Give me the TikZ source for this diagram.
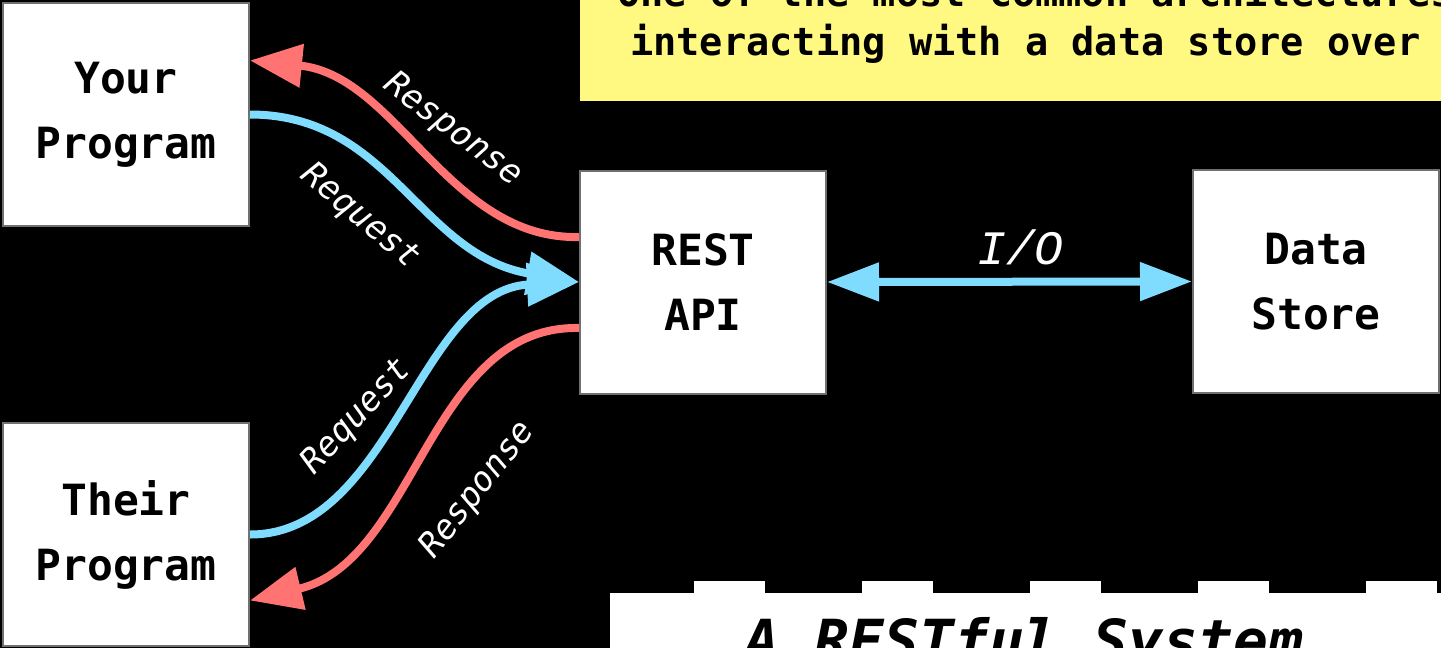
\documentclass[tikz,border=0pt]{standalone}
\usepackage{fontspec}
\setmonofont{DejaVu Sans Mono}
\newfontfamily\iofont{Liberation Mono}
\usetikzlibrary{arrows.meta}
\definecolor{respred}{HTML}{FF7373}
\definecolor{reqblue}{HTML}{80DCFF}
\definecolor{notebg}{HTML}{FFF982}
\definecolor{edgegray}{HTML}{707070}
\begin{document}
\begin{tikzpicture}[x=1pt,y=-1pt,
  box/.style={draw=edgegray, line width=2pt, fill=white, inner sep=0pt,
    minimum width=246pt, minimum height=223pt, align=center,
    font=\ttfamily\bfseries\fontsize{43}{65}\selectfont},
  reqline/.style={draw=reqblue, line width=8pt, -{Triangle[length=52pt,width=42pt]}},
  respline/.style={draw=respred, line width=8pt, -{Triangle[length=52pt,width=42pt]}},
  lbl/.style={text=white, inner sep=0pt, font=\ttfamily\itshape\fontsize{34}{34}\selectfont},
  notetext/.style={anchor=base west, inner sep=0pt, font=\ttfamily\bfseries\fontsize{38.6}{38.6}\selectfont}]
\clip (0,0) rectangle (1441,648);
\fill[black] (0,0) rectangle (1441,648);
% the note at the top
\fill[notebg] (580,-30) rectangle (1470,101);
\node[notetext] (note1) at (617,6) {One of the most common architectures};
\node[notetext] (note2) at (630,55) {interacting with a data store over};
% the boxes
\node[box] (your) at (126,114.5) {Your\\Program};
\node[box] (their) at (126,534.5) {Their\\Program};
\node[box] (rest) at (703,282) {REST\\API};
\node[box] (store) at (1316,281.5) {Data\\Store};
% requests and responses
\draw[respline] ([yshift=45pt]rest.west) .. controls +(-130,3) and +(147,15) .. ([yshift=54pt]your.east);
\draw[reqline] (your.east) .. controls +(141,0) and +(-160,-27) .. (rest.west);
\draw[reqline] (their.east) .. controls +(141,0) and +(-160,8) .. (rest.west);
\draw[respline] ([yshift=-46pt]rest.west) .. controls +(-150,-3) and +(167,-40) .. ([yshift=-66pt]their.east);
\node[lbl, rotate=-37] (resp1) at (453,130) {Response};
\node[lbl, rotate=-40] (req1) at (360,217) {Request};
\node[lbl, rotate=47] (req2) at (357,417) {Request};
\node[lbl, rotate=52] (resp2) at (478,490) {Response};
% I/O between api and store
\draw[draw=reqblue, line width=8pt, {Triangle[length=52pt,width=37pt]}-{Triangle[length=52pt,width=37pt]}]
  (rest.east) -- node[pos=.53, anchor=base, yshift=17pt, inner sep=0pt, text=white,
  font=\iofont\itshape\fontsize{48}{48}\selectfont] (io) {I/O} (store.west);
% the title
\fill[white] (610,593) rectangle (1441,660);
\foreach \x in {694,862,1030,1198,1366}
  \fill[white] (\x,581) rectangle ++(71,12);
\node[anchor=base, inner sep=0pt, font=\ttfamily\bfseries\itshape\fontsize{58}{58}\selectfont] (title) at (1024,661) {A RESTful System};
\end{tikzpicture}
\end{document}
